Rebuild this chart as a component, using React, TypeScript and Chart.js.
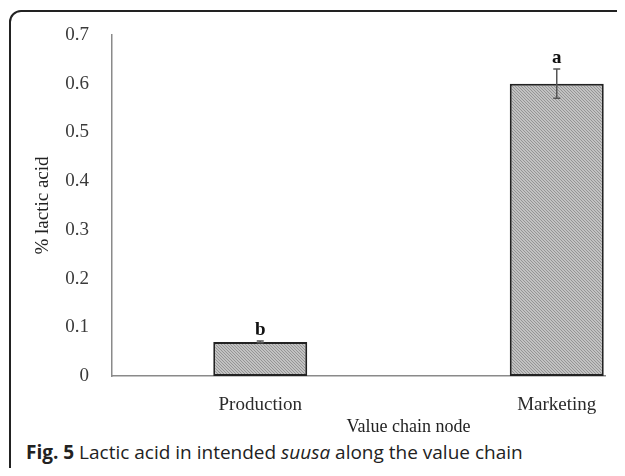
import React, { useEffect, useRef } from 'react';
import { Chart, registerables } from 'chart.js';

Chart.register(...registerables);

const categories = ['Production', 'Marketing'];
const lacticAcid = [0.07, 0.6];
const errors = [0.002, 0.03];
const letters = ['b', 'a'];
const yMin = 0;
const yMax = 0.7;
const yStep = 0.1;
const yTitle = '% lactic acid';
const xTitle = 'Value chain node';

const SERIF = "'Liberation Serif', 'Times New Roman', serif";

function makePattern(): CanvasPattern | string {
  const c = document.createElement('canvas');
  c.width = 3;
  c.height = 3;
  const g = c.getContext('2d');
  if (!g) return '#aaa';
  g.fillStyle = '#c2c2c2';
  g.fillRect(0, 0, 3, 3);
  g.fillStyle = '#959595';
  g.fillRect(0, 0, 1, 1);
  g.fillRect(1, 1, 1, 1);
  g.fillRect(2, 2, 1, 1);
  const p = g.createPattern(c, 'repeat');
  return p || '#aaa';
}

const errorBarPlugin = {
  id: 'errorBars',
  afterDatasetsDraw(chart: any) {
    const ctx = chart.ctx;
    const meta = chart.getDatasetMeta(0);
    const yScale = chart.scales.y;
    ctx.save();
    meta.data.forEach((bar: any, i: number) => {
      const v = lacticAcid[i];
      const e = errors[i];
      const x = bar.x;
      const yTop = yScale.getPixelForValue(v + e);
      const yBot = yScale.getPixelForValue(v - e);
      ctx.strokeStyle = '#555';
      ctx.lineWidth = 1.5;
      ctx.beginPath();
      ctx.moveTo(x, yTop);
      ctx.lineTo(x, yBot);
      ctx.moveTo(x - 3.5, yTop);
      ctx.lineTo(x + 3.5, yTop);
      ctx.moveTo(x - 3.5, yBot);
      ctx.lineTo(x + 3.5, yBot);
      ctx.stroke();
      ctx.fillStyle = '#111';
      ctx.font = `bold 19px ${SERIF}`;
      ctx.textAlign = 'center';
      ctx.textBaseline = 'alphabetic';
      ctx.fillText(letters[i], x, yTop - 6);
    });
    ctx.restore();
  },
};

function BarChart() {
  const ref = useRef<HTMLCanvasElement>(null);
  useEffect(() => {
    if (!ref.current) return;
    const pattern = makePattern();
    const chart = new Chart(ref.current, {
      type: 'bar',
      data: {
        labels: categories,
        datasets: [
          {
            data: lacticAcid,
            backgroundColor: pattern as any,
            borderColor: '#222',
            borderWidth: 2,
            borderSkipped: false,
            categoryPercentage: 1,
            barPercentage: 0.317,
          },
        ],
      },
      options: {
        responsive: false,
        animation: false,
        events: [],
        layout: { padding: { left: 0, top: 35, right: 55, bottom: 0 } },
        plugins: {
          legend: { display: false },
          tooltip: { enabled: false },
          title: { display: false },
        },
        scales: {
          x: {
            afterFit: (s: any) => {
              s.height = 62;
            },
            grid: { display: false },
            border: { display: true, color: '#8a8a8a', width: 1.5 },
            ticks: {
              color: '#2a2a2a',
              padding: 10,
              font: { family: SERIF, size: 19 },
            },
            title: {
              display: true,
              text: xTitle,
              color: '#222',
              padding: 0,
              font: { family: SERIF, size: 18 },
            },
          },
          y: {
            min: yMin,
            max: yMax,
            afterFit: (s: any) => {
              s.width = 112;
            },
            grid: { display: false },
            border: { display: true, color: '#8a8a8a', width: 1.5 },
            ticks: {
              stepSize: yStep,
              color: '#3a3a3a',
              padding: 15,
              font: { family: SERIF, size: 19 },
              callback: (v: any) => (Number(v) === 0 ? '0' : Number(v).toFixed(1)),
            },
            title: {
              display: true,
              text: yTitle,
              color: '#222',
              padding: { top: 32, bottom: 0 },
              font: { family: SERIF, size: 19 },
            },
          },
        },
      },
      plugins: [errorBarPlugin],
    });
    return () => chart.destroy();
  }, []);
  return <canvas ref={ref} width={760} height={438} style={{ display: 'block' }} />;
}

export default function App() {
  return (
    <div
      style={{
        position: 'relative',
        margin: -8,
        width: 625,
        height: 476,
        overflow: 'hidden',
        background: '#fff',
      }}
    >
      <div
        style={{
          position: 'absolute',
          left: 9,
          top: 10,
          width: 680,
          height: 470,
          border: '2px solid #222',
          borderRadius: 12,
          boxSizing: 'border-box',
        }}
      />
      <div
        style={{
          position: 'absolute',
          left: 0,
          top: 0,
          width: 606,
          height: 437,
          overflow: 'hidden',
        }}
      >
        <BarChart />
      </div>
      <div
        style={{
          position: 'absolute',
          left: 26,
          top: 437,
          height: 30,
          lineHeight: '30px',
          fontFamily: "'Open Sans', sans-serif",
          fontSize: 19,
          color: '#222',
          whiteSpace: 'nowrap',
        }}
      >
        <b>Fig. 5</b> Lactic acid in intended <i>suusa</i> along the value chain
      </div>
    </div>
  );
}
